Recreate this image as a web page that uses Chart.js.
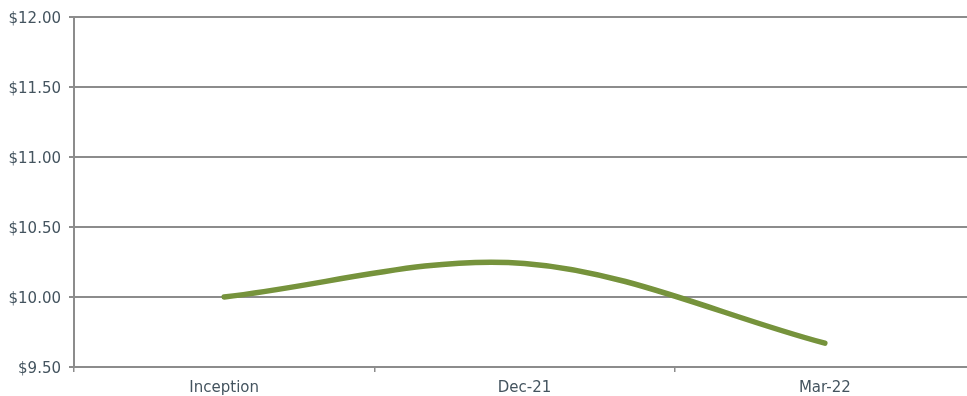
<!DOCTYPE html>
<html>
<head>
<meta charset="utf-8">
<script src="https://cdn.jsdelivr.net/npm/chart.js@4/dist/chart.umd.min.js"></script>
<style>
  html, body { margin: 0; padding: 0; background: #fff; overflow: hidden; }
  #wrap { width: 975px; height: 396px; }
</style>
</head>
<body>
<div id="wrap"><canvas id="navChart"></canvas></div>
<script>
// NAV per share
const periods = ["Inception", "Dec-21", "Mar-22"];
const navValues = [10.00, 10.24, 9.67];
const yTicks = [9.5, 10, 10.5, 11, 11.5, 12];

const gridGrey = "#8c8c8c";
const textColor = "#44545f";
const labelFont = { family: "DejaVu Sans", size: 15 };

const ctx = document.getElementById("navChart").getContext("2d");
new Chart(ctx, {
  type: "line",
  data: {
    labels: periods,
    datasets: [{
      data: navValues,
      borderColor: "#76933c",
      borderWidth: 5.5,
      borderCapStyle: "round",
      pointRadius: 0,
      tension: 0.34,
      fill: false
    }]
  },
  options: {
    responsive: true,
    maintainAspectRatio: false,
    animation: false,
    layout: { padding: { top: 17, right: 0, left: 0, bottom: 0 } },
    plugins: { legend: { display: false }, tooltip: { enabled: false } },
    scales: {
      x: {
        offset: true,
        grid: { offset: true, drawOnChartArea: false, drawTicks: true, tickLength: 5, color: gridGrey, lineWidth: 1.5 },
        border: { color: gridGrey, width: 2 },
        ticks: { color: textColor, font: labelFont, padding: 7 },
        afterFit: s => { s.height = 29; }
      },
      y: {
        min: 9.5,
        max: 12,
        afterBuildTicks: s => { s.ticks = yTicks.map(v => ({ value: v })); },
        grid: { color: gridGrey, lineWidth: 2, tickLength: 5 },
        border: { color: gridGrey, width: 2 },
        ticks: {
          color: textColor,
          font: labelFont,
          padding: 8,
          labelOffset: 2,
          callback: v => "$" + Number(v).toFixed(2)
        },
        afterFit: s => { s.width = 74; }
      }
    }
  }
});
</script>
</body>
</html>
